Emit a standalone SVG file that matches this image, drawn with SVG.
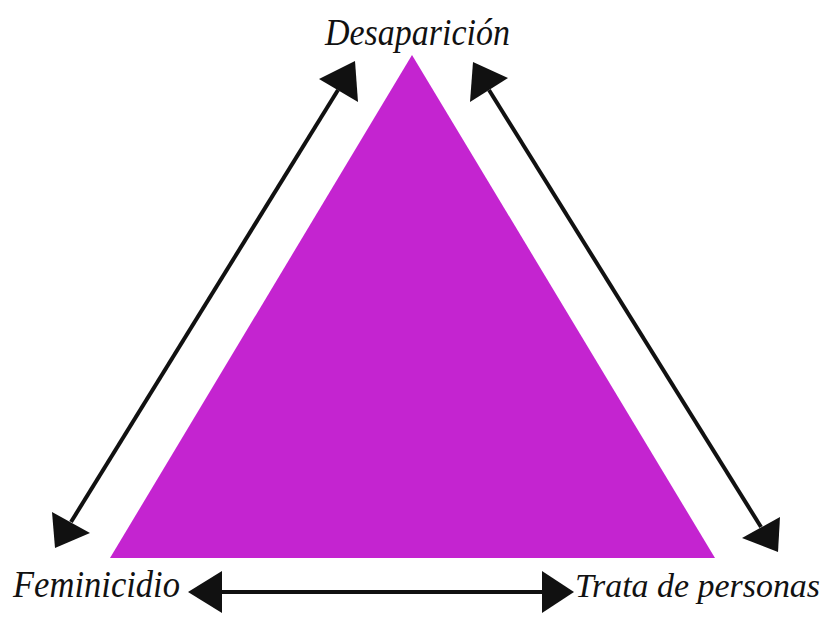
<svg xmlns="http://www.w3.org/2000/svg" width="831" height="617" viewBox="0 0 831 617">
<style>
.lbl{font-family:"Liberation Serif","DejaVu Serif",serif;font-style:italic;font-size:37px;fill:#111}
.ln{stroke:#111;stroke-width:4;fill:none}
.ah{fill:#111}
</style>
<rect width="831" height="617" fill="#fff"/>
<g id="triangle">
<polygon points="412,55 110,558 715,558" fill="#C424D0"/>
</g>
<g id="connectors">
<line class="ln" x1="71" y1="522" x2="338" y2="90"/>
<polygon class="ah" points="355,61 319,79 358,102"/>
<polygon class="ah" points="55,548 52,512 90,533"/>
<line class="ln" x1="489" y1="90" x2="761" y2="527"/>
<polygon class="ah" points="473,62 470,102 508,78"/>
<polygon class="ah" points="778,552 742,538 780,517"/>
<line class="ln" x1="220" y1="592" x2="545" y2="592"/>
<polygon class="ah" points="188,592 222,571 222,613"/>
<polygon class="ah" points="574,592 542,571 542,613"/>
</g>
<g id="node-desaparicion">
<text class="lbl" x="325" y="45" textLength="185" lengthAdjust="spacingAndGlyphs">Desaparición</text>
</g>
<g id="node-feminicidio">
<text class="lbl" x="13" y="597" textLength="167" lengthAdjust="spacingAndGlyphs">Feminicidio</text>
</g>
<g id="node-trata">
<text class="lbl" x="575" y="597" style="font-size:34px" textLength="245" lengthAdjust="spacingAndGlyphs">Trata de personas</text>
</g>
</svg>
